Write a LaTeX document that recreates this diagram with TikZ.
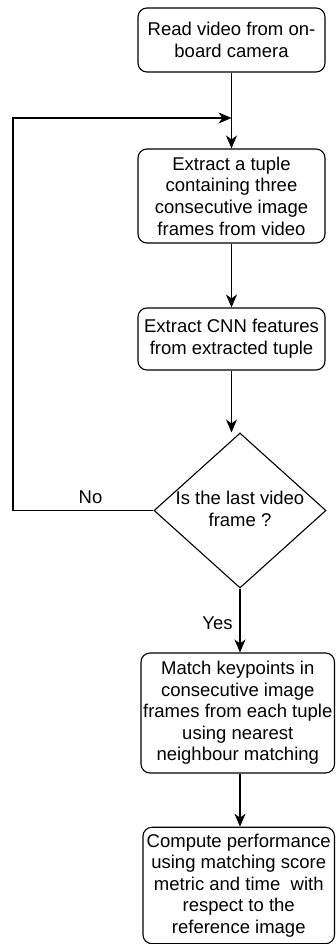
\documentclass[tikz,border=0pt]{standalone}
\usepackage{fontspec}
\setmainfont{Liberation Sans}
\usetikzlibrary{arrows.meta,shapes.geometric}
\begin{document}
\begin{tikzpicture}[x=1pt,y=1pt,
  every node/.style={font=\fontsize{18.5}{21.6}\selectfont, inner sep=0pt},
  procbox/.style={draw, line width=1.1pt, rounded corners=9pt, align=center},
  decbox/.style={draw, line width=1.1pt, diamond, align=center},
  conn/.style={line width=1.1pt, -{Stealth[length=13pt,width=11pt,inset=4pt,open,fill=black,line width=1pt]}}]
\useasboundingbox (0,0) rectangle (335,-944);
\node[procbox, minimum width=187pt, minimum height=64pt] (b1) at (231.5,-40) {Read video from on-\\board camera};
\node[procbox, minimum width=187pt, minimum height=94pt] (b2) at (231.5,-196) {Extract a tuple\\containing three\\consecutive image\\frames from video};
\node[procbox, minimum width=187pt, minimum height=62pt] (b3) at (231.5,-339) {Extract CNN features\\from extracted tuple};
\node[decbox, minimum width=172pt, minimum height=155pt] (d) at (240,-510.5) {};
\node[align=center] (dt) at (240,-509) {Is the last video\\frame ?};
\node[procbox, minimum width=193.5pt, minimum height=120pt] (b4) at (237.75,-713) {Match keypoints in\\consecutive image\\frames from each tuple\\using nearest\\neighbour matching};
\node[procbox, minimum width=191.5pt, minimum height=116.5pt] (b5) at (238.75,-885.5) {Compute performance\\using matching score\\metric and time\ \ with\\respect to the\\reference image};
\coordinate (lb) at (13,-510.5);
\coordinate (lt) at (13,-118);
\coordinate (join) at (231.5,-118);
\node (no) at (90.5,-497) {No};
\node (yes) at (217.5,-623) {Yes};
\draw[conn] (b1.south) -- (b2.north);
\draw[conn] (d.west) -- (lb) -- (lt) -- (join);
\draw[conn] (b2.south) -- (b3.north);
\draw[conn] (b3.south) -- (b3.south |- d.north);
\draw[conn] (d.south) -- (d.south |- b4.north);
\draw[conn] (b4.south -| d.south) -- (d.south |- b5.north);
\end{tikzpicture}
\end{document}
